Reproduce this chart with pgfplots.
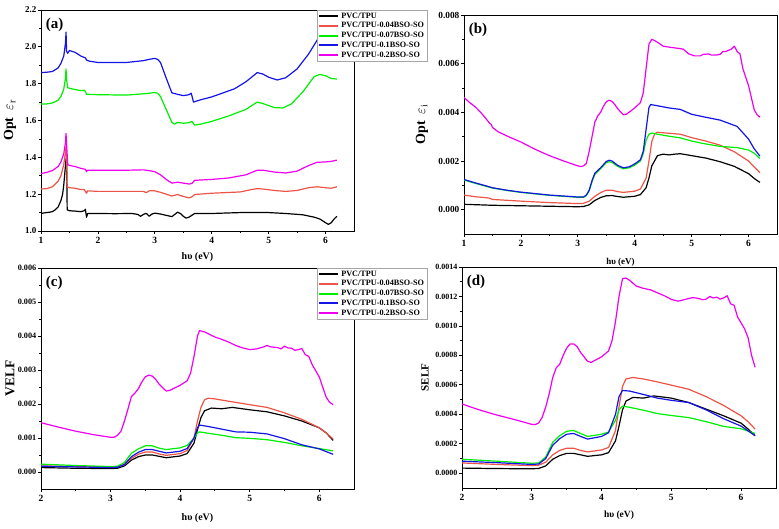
\documentclass[border=0pt]{standalone}
\usepackage{fontspec}
\setmainfont{Liberation Serif}
\usepackage{pgfplots}
\pgfplotsset{compat=1.18}

\definecolor{cBlack}{RGB}{0,0,0}
\definecolor{cRed}{RGB}{236,84,72}
\definecolor{cGreen}{RGB}{0,238,0}
\definecolor{cBlue}{RGB}{20,20,230}
\definecolor{cMag}{RGB}{240,0,240}

\pgfplotsset{
  panel/.style={
    scale only axis, anchor=south west,
    width=313pt, height=221pt,
    axis line style={line width=0.9pt},
    tick align=outside, tick pos=left,
    minor tick num=1,
    major tick length=3pt, minor tick length=1.8pt,
    every tick/.style={black, line width=0.8pt},
    xticklabel style={font=\bfseries\fontsize{9.5}{11}\selectfont},
    yticklabel style={inner xsep=1.5pt},
    /pgf/number format/assume math mode=true,
    scaled y ticks=false,
    xmax=6.5,
    xlabel={hυ (eV)},
    every axis plot/.append style={line width=1.2pt, line join=round, no markers},
    legend cell align=left,
    legend image code/.code={\draw[##1, line width=2pt] (0pt,0pt) -- (19pt,0pt);},
  },
  leg/.style={
    legend style={at={(axis description cs:0.882,1)}, anchor=north west,
      draw=black!35, fill=white, line width=0.5pt,
      font=\bfseries\fontsize{8.2}{9}\selectfont,
      inner xsep=1pt, inner ysep=0.5pt, row sep=-1.2pt},
  },
}

\begin{document}
\begin{tikzpicture}[x=1pt,y=1pt]
\path[use as bounding box] (0,0) rectangle (779,529);

% ---------------- (a) real part of the optical dielectric constant
\begin{axis}[panel, leg, at={(41pt,298pt)},
  xmin=1, ymin=1.0, ymax=2.2, xtick={1,2,3,4,5,6},
  ytick={1.0,1.2,...,2.2},
  yticklabel style={font=\bfseries\fontsize{9}{11}\selectfont, /pgf/number format/.cd, fixed, fixed zerofill, precision=1},
  ylabel={Opt~~$\varepsilon_{\mathrm{r}}$},
  ylabel style={at={(axis description cs:-0.099,0.5)}, anchor=center, font=\bfseries\fontsize{14}{16}\selectfont},
  xlabel style={at={(axis description cs:0.5,-0.118)}, anchor=center, font=\bfseries\fontsize{10}{12}\selectfont},
]
\addplot[color=cBlack] coordinates {(1.00,1.095)(1.05,1.098)(1.10,1.100)(1.15,1.102)(1.20,1.105)(1.25,1.115)(1.30,1.130)(1.35,1.165)(1.38,1.200)(1.40,1.250)(1.42,1.320)(1.44,1.390)(1.45,1.400)(1.46,1.115)(1.50,1.110)(1.60,1.108)(1.70,1.105)(1.76,1.110)(1.78,1.118)(1.80,1.075)(1.82,1.095)(1.90,1.095)(2.00,1.095)(2.30,1.094)(2.60,1.095)(2.70,1.090)(2.75,1.080)(2.80,1.090)(2.85,1.096)(2.90,1.080)(2.95,1.092)(3.00,1.097)(3.10,1.092)(3.20,1.085)(3.30,1.078)(3.35,1.090)(3.40,1.102)(3.45,1.095)(3.50,1.080)(3.55,1.070)(3.60,1.075)(3.65,1.085)(3.70,1.095)(4.00,1.095)(4.50,1.100)(5.00,1.100)(5.30,1.095)(5.60,1.088)(5.80,1.075)(5.90,1.065)(6.00,1.045)(6.05,1.036)(6.10,1.045)(6.15,1.065)(6.20,1.080)};
\addlegendentry{PVC/TPU}
\addplot[color=cRed] coordinates {(1.00,1.228)(1.10,1.230)(1.20,1.240)(1.30,1.270)(1.35,1.300)(1.40,1.360)(1.43,1.430)(1.44,1.460)(1.45,1.400)(1.46,1.240)(1.50,1.235)(1.60,1.232)(1.70,1.225)(1.76,1.225)(1.80,1.205)(1.82,1.218)(2.00,1.215)(2.50,1.215)(2.80,1.215)(2.85,1.208)(2.90,1.218)(3.00,1.218)(3.10,1.210)(3.20,1.200)(3.30,1.190)(3.40,1.198)(3.50,1.188)(3.60,1.180)(3.65,1.185)(3.70,1.198)(4.00,1.205)(4.50,1.212)(4.70,1.225)(4.80,1.230)(4.90,1.228)(5.10,1.220)(5.30,1.215)(5.50,1.220)(5.70,1.235)(5.85,1.240)(6.00,1.235)(6.10,1.232)(6.20,1.240)};
\addlegendentry{PVC/TPU-0.04BSO-SO}
\addplot[color=cGreen] coordinates {(1.00,1.690)(1.10,1.690)(1.20,1.695)(1.30,1.710)(1.35,1.730)(1.40,1.770)(1.43,1.830)(1.44,1.880)(1.45,1.820)(1.47,1.778)(1.50,1.775)(1.60,1.768)(1.70,1.762)(1.76,1.765)(1.78,1.758)(1.80,1.742)(1.85,1.742)(2.00,1.740)(2.50,1.738)(2.80,1.745)(2.90,1.748)(3.00,1.752)(3.05,1.748)(3.10,1.730)(3.20,1.660)(3.30,1.590)(3.35,1.580)(3.40,1.590)(3.50,1.585)(3.60,1.588)(3.65,1.595)(3.70,1.575)(3.80,1.580)(4.00,1.595)(4.30,1.625)(4.60,1.660)(4.80,1.700)(4.90,1.692)(5.10,1.670)(5.25,1.668)(5.40,1.690)(5.60,1.755)(5.80,1.838)(5.90,1.850)(6.00,1.843)(6.10,1.828)(6.20,1.825)};
\addlegendentry{PVC/TPU-0.07BSO-SO}
\addplot[color=cBlue] coordinates {(1.00,1.860)(1.10,1.862)(1.20,1.866)(1.30,1.885)(1.35,1.910)(1.40,1.950)(1.43,2.020)(1.44,2.080)(1.45,1.975)(1.47,1.965)(1.50,1.980)(1.60,1.970)(1.70,1.950)(1.78,1.940)(1.80,1.928)(1.85,1.922)(2.00,1.915)(2.50,1.915)(2.80,1.925)(2.90,1.932)(3.00,1.937)(3.05,1.932)(3.10,1.915)(3.20,1.830)(3.30,1.750)(3.40,1.742)(3.50,1.735)(3.60,1.740)(3.64,1.748)(3.68,1.700)(3.80,1.712)(4.00,1.728)(4.40,1.772)(4.60,1.810)(4.80,1.860)(4.90,1.852)(5.00,1.835)(5.15,1.820)(5.30,1.832)(5.50,1.880)(5.70,1.960)(5.90,2.060)(6.00,2.080)(6.20,2.090)};
\addlegendentry{PVC/TPU-0.1BSO-SO}
\addplot[color=cMag] coordinates {(1.00,1.312)(1.10,1.318)(1.20,1.328)(1.30,1.350)(1.35,1.375)(1.40,1.420)(1.43,1.480)(1.44,1.530)(1.45,1.470)(1.47,1.360)(1.50,1.356)(1.60,1.350)(1.70,1.340)(1.78,1.335)(1.80,1.322)(1.82,1.330)(2.00,1.330)(2.50,1.330)(2.80,1.332)(2.90,1.328)(3.00,1.322)(3.10,1.305)(3.20,1.280)(3.30,1.260)(3.40,1.265)(3.50,1.260)(3.60,1.255)(3.65,1.258)(3.70,1.275)(4.00,1.280)(4.30,1.288)(4.60,1.305)(4.80,1.330)(4.90,1.330)(5.10,1.320)(5.30,1.315)(5.50,1.325)(5.70,1.355)(5.85,1.373)(6.00,1.375)(6.10,1.378)(6.20,1.385)};
\addlegendentry{PVC/TPU-0.2BSO-SO}
\node[anchor=north west, font=\bfseries\fontsize{15}{16}\selectfont, inner sep=0pt] at (axis description cs:0.015,0.965) {(a)};
\end{axis}

% ---------------- (b) imaginary part
\begin{axis}[panel, at={(464pt,295pt)}, height=219pt,
  xmin=1, ymin=-0.001, ymax=0.008, xtick={1,2,3,4,5,6},
  ytick={0,0.002,0.004,0.006,0.008},
  yticklabel style={font=\bfseries\fontsize{9.3}{11}\selectfont, /pgf/number format/.cd, fixed, fixed zerofill, precision=3},
  ylabel={Opt~~$\varepsilon_{\mathrm{i}}$},
  ylabel style={at={(axis description cs:-0.134,0.5)}, anchor=center, font=\bfseries\fontsize{14}{16}\selectfont},
  xlabel style={at={(axis description cs:0.5,-0.128)}, anchor=center, font=\bfseries\fontsize{9}{11}\selectfont},
]
\addplot[color=cBlack] coordinates {(1.00,0.00022)(1.50,0.00018)(2.00,0.00016)(2.50,0.00014)(3.00,0.00012)(3.10,0.00013)(3.20,0.00020)(3.30,0.00038)(3.40,0.00050)(3.50,0.00057)(3.60,0.00058)(3.70,0.00054)(3.80,0.00051)(4.00,0.00055)(4.10,0.00062)(4.20,0.00090)(4.25,0.00130)(4.30,0.00180)(4.40,0.00222)(4.50,0.00228)(4.60,0.00225)(4.70,0.00228)(4.80,0.00230)(5.00,0.00222)(5.25,0.00212)(5.50,0.00197)(5.75,0.00178)(6.00,0.00148)(6.10,0.00128)(6.20,0.00112)};
\addplot[color=cRed] coordinates {(1.00,0.00060)(1.20,0.00053)(1.40,0.00049)(1.45,0.00047)(1.50,0.00042)(2.00,0.00035)(2.50,0.00029)(3.00,0.00025)(3.10,0.00026)(3.20,0.00035)(3.30,0.00055)(3.40,0.00070)(3.50,0.00080)(3.60,0.00080)(3.70,0.00074)(3.80,0.00071)(4.00,0.00076)(4.10,0.00085)(4.20,0.00130)(4.25,0.00200)(4.30,0.00280)(4.35,0.00312)(4.40,0.00318)(4.60,0.00314)(4.80,0.00310)(5.00,0.00296)(5.25,0.00282)(5.50,0.00265)(5.75,0.00238)(6.00,0.00200)(6.10,0.00175)(6.20,0.00152)};
\addplot[color=cGreen] coordinates {(1.00,0.00122)(1.20,0.00108)(1.40,0.00095)(1.50,0.00089)(1.75,0.00079)(2.00,0.00071)(2.50,0.00059)(3.00,0.00051)(3.10,0.00051)(3.15,0.00058)(3.20,0.00078)(3.25,0.00115)(3.30,0.00145)(3.40,0.00168)(3.50,0.00193)(3.55,0.00197)(3.60,0.00194)(3.70,0.00178)(3.80,0.00168)(3.90,0.00172)(4.00,0.00183)(4.10,0.00200)(4.15,0.00230)(4.20,0.00285)(4.25,0.00310)(4.30,0.00315)(4.40,0.00310)(4.60,0.00302)(4.80,0.00295)(5.00,0.00282)(5.20,0.00272)(5.50,0.00260)(5.80,0.00255)(6.00,0.00245)(6.10,0.00232)(6.20,0.00210)};
\addplot[color=cBlue] coordinates {(1.00,0.00124)(1.20,0.00110)(1.40,0.00097)(1.50,0.00090)(1.75,0.00080)(2.00,0.00072)(2.50,0.00060)(3.00,0.00052)(3.10,0.00052)(3.15,0.00060)(3.20,0.00080)(3.25,0.00120)(3.30,0.00150)(3.40,0.00172)(3.50,0.00198)(3.55,0.00203)(3.60,0.00200)(3.70,0.00182)(3.80,0.00172)(3.90,0.00176)(4.00,0.00188)(4.10,0.00205)(4.15,0.00240)(4.20,0.00330)(4.25,0.00420)(4.28,0.00432)(4.40,0.00427)(4.60,0.00418)(4.80,0.00412)(5.00,0.00392)(5.20,0.00382)(5.50,0.00368)(5.80,0.00342)(6.00,0.00290)(6.10,0.00250)(6.20,0.00220)};
\addplot[color=cMag] coordinates {(1.00,0.00461)(1.10,0.00440)(1.20,0.00422)(1.30,0.00398)(1.40,0.00370)(1.45,0.00355)(1.48,0.00350)(1.50,0.00338)(1.60,0.00320)(1.80,0.00298)(2.00,0.00278)(2.25,0.00248)(2.50,0.00222)(2.75,0.00200)(3.00,0.00180)(3.05,0.00177)(3.10,0.00180)(3.15,0.00190)(3.20,0.00240)(3.25,0.00300)(3.30,0.00360)(3.35,0.00385)(3.40,0.00400)(3.45,0.00425)(3.50,0.00443)(3.55,0.00450)(3.60,0.00445)(3.65,0.00432)(3.70,0.00415)(3.80,0.00390)(3.85,0.00392)(3.90,0.00400)(4.00,0.00418)(4.10,0.00440)(4.15,0.00480)(4.20,0.00580)(4.25,0.00680)(4.30,0.00700)(4.35,0.00695)(4.40,0.00688)(4.50,0.00672)(4.60,0.00668)(4.70,0.00665)(4.85,0.00660)(4.95,0.00640)(5.05,0.00632)(5.15,0.00632)(5.20,0.00638)(5.30,0.00640)(5.35,0.00635)(5.45,0.00636)(5.50,0.00638)(5.55,0.00650)(5.60,0.00650)(5.65,0.00655)(5.70,0.00660)(5.75,0.00672)(5.80,0.00650)(5.85,0.00640)(5.90,0.00580)(6.00,0.00510)(6.05,0.00460)(6.10,0.00410)(6.15,0.00390)(6.20,0.00380)};
\node[anchor=north west, font=\bfseries\fontsize{15}{16}\selectfont, inner sep=0pt] at (axis description cs:0.015,0.965) {(b)};
\end{axis}

% ---------------- (c) volume energy loss function
\begin{axis}[panel, leg, at={(41pt,40pt)},
  xmin=2, ymin=-0.0005, ymax=0.006, xtick={2,3,4,5,6},
  ytick={0,0.001,...,0.006},
  yticklabel style={font=\bfseries\fontsize{8.2}{10}\selectfont, /pgf/number format/.cd, fixed, fixed zerofill, precision=3},
  ylabel={VELF},
  ylabel style={at={(axis description cs:-0.099,0.5)}, anchor=center, font=\bfseries\fontsize{13.5}{15}\selectfont},
  xlabel style={at={(axis description cs:0.5,-0.131)}, anchor=center, font=\bfseries\fontsize{10}{12}\selectfont},
]
\addplot[color=cBlack] coordinates {(2.00,0.00013)(2.50,0.00011)(3.00,0.00010)(3.10,0.00011)(3.20,0.00018)(3.30,0.00035)(3.40,0.00045)(3.50,0.00050)(3.60,0.00050)(3.70,0.00046)(3.80,0.00042)(4.00,0.00047)(4.10,0.00054)(4.20,0.00085)(4.25,0.00125)(4.30,0.00160)(4.35,0.00180)(4.45,0.00188)(4.60,0.00186)(4.75,0.00190)(5.00,0.00183)(5.25,0.00177)(5.50,0.00165)(5.75,0.00150)(6.00,0.00130)(6.10,0.00115)(6.20,0.00093)};
\addlegendentry{PVC/TPU}
\addplot[color=cRed] coordinates {(2.00,0.00018)(2.50,0.00016)(3.00,0.00014)(3.10,0.00015)(3.20,0.00022)(3.30,0.00040)(3.40,0.00052)(3.50,0.00059)(3.60,0.00059)(3.70,0.00053)(3.80,0.00049)(4.00,0.00054)(4.10,0.00063)(4.20,0.00100)(4.25,0.00150)(4.30,0.00190)(4.35,0.00212)(4.40,0.00217)(4.50,0.00215)(4.70,0.00208)(5.00,0.00198)(5.25,0.00190)(5.50,0.00174)(5.75,0.00155)(6.00,0.00130)(6.10,0.00115)(6.20,0.00097)};
\addlegendentry{PVC/TPU-0.04BSO-SO}
\addplot[color=cGreen] coordinates {(2.00,0.00023)(2.50,0.00019)(3.00,0.00016)(3.10,0.00017)(3.20,0.00028)(3.30,0.00055)(3.40,0.00068)(3.50,0.00077)(3.60,0.00077)(3.70,0.00070)(3.80,0.00066)(4.00,0.00071)(4.10,0.00078)(4.20,0.00100)(4.25,0.00115)(4.28,0.00118)(4.40,0.00114)(4.60,0.00108)(4.80,0.00101)(5.00,0.00099)(5.25,0.00095)(5.50,0.00087)(5.75,0.00077)(6.00,0.00069)(6.20,0.00062)};
\addlegendentry{PVC/TPU-0.07BSO-SO}
\addplot[color=cBlue] coordinates {(2.00,0.00017)(2.50,0.00015)(3.00,0.00013)(3.10,0.00014)(3.20,0.00022)(3.30,0.00045)(3.40,0.00058)(3.50,0.00066)(3.60,0.00066)(3.70,0.00061)(3.80,0.00056)(4.00,0.00061)(4.10,0.00069)(4.20,0.00100)(4.25,0.00130)(4.28,0.00138)(4.40,0.00134)(4.60,0.00126)(4.80,0.00118)(5.00,0.00117)(5.25,0.00112)(5.50,0.00098)(5.75,0.00080)(6.00,0.00068)(6.20,0.00052)};
\addlegendentry{PVC/TPU-0.1BSO-SO}
\addplot[color=cMag] coordinates {(2.00,0.00145)(2.25,0.00132)(2.50,0.00120)(2.75,0.00110)(3.00,0.00102)(3.05,0.00102)(3.10,0.00108)(3.15,0.00120)(3.20,0.00150)(3.25,0.00185)(3.30,0.00222)(3.35,0.00232)(3.40,0.00245)(3.45,0.00265)(3.50,0.00280)(3.55,0.00285)(3.60,0.00282)(3.65,0.00272)(3.70,0.00258)(3.80,0.00238)(3.85,0.00240)(3.90,0.00245)(4.00,0.00255)(4.10,0.00268)(4.15,0.00290)(4.20,0.00340)(4.25,0.00400)(4.28,0.00416)(4.35,0.00412)(4.50,0.00397)(4.60,0.00390)(4.70,0.00382)(4.80,0.00372)(4.90,0.00365)(5.00,0.00360)(5.10,0.00362)(5.20,0.00368)(5.25,0.00372)(5.30,0.00368)(5.40,0.00366)(5.45,0.00362)(5.50,0.00370)(5.55,0.00365)(5.60,0.00364)(5.65,0.00358)(5.70,0.00360)(5.75,0.00363)(5.80,0.00345)(5.85,0.00340)(5.90,0.00315)(6.00,0.00280)(6.05,0.00250)(6.10,0.00220)(6.15,0.00205)(6.20,0.00198)};
\addlegendentry{PVC/TPU-0.2BSO-SO}
\node[anchor=north west, font=\bfseries\fontsize{15}{16}\selectfont, inner sep=0pt] at (axis description cs:0.015,0.965) {(c)};
\end{axis}

% ---------------- (d) surface energy loss function
\begin{axis}[panel, at={(462pt,41pt)}, width=314pt,
  xmin=2, ymin=-0.0001, ymax=0.0014, xtick={2,3,4,5,6},
  ytick={0,0.0002,0.0004,0.0006,0.0008,0.0010,0.0012,0.0014},
  yticklabel style={font=\bfseries\fontsize{8}{10}\selectfont, /pgf/number format/.cd, fixed, fixed zerofill, precision=4},
  ylabel={SELF},
  ylabel style={at={(axis description cs:-0.118,0.5)}, anchor=center, font=\bfseries\fontsize{11}{13}\selectfont},
  xlabel style={at={(axis description cs:0.5,-0.122)}, anchor=center, font=\bfseries\fontsize{9.5}{11}\selectfont},
]
\addplot[color=cBlack] coordinates {(2.00,0.000035)(2.50,0.000032)(3.00,0.000030)(3.10,0.000033)(3.20,0.000050)(3.30,0.000095)(3.40,0.000120)(3.50,0.000135)(3.60,0.000135)(3.70,0.000125)(3.80,0.000115)(4.00,0.000125)(4.10,0.000140)(4.20,0.000220)(4.25,0.000320)(4.30,0.000430)(4.35,0.000490)(4.45,0.000515)(4.60,0.000510)(4.75,0.000525)(5.00,0.000510)(5.25,0.000480)(5.50,0.000435)(5.75,0.000390)(6.00,0.000340)(6.10,0.000300)(6.20,0.000255)};
\addplot[color=cRed] coordinates {(2.00,0.000070)(2.50,0.000060)(3.00,0.000052)(3.10,0.000055)(3.20,0.000075)(3.30,0.000125)(3.40,0.000155)(3.50,0.000170)(3.60,0.000170)(3.70,0.000155)(3.80,0.000145)(4.00,0.000158)(4.10,0.000175)(4.20,0.000290)(4.25,0.000450)(4.30,0.000590)(4.35,0.000640)(4.45,0.000650)(4.60,0.000640)(4.80,0.000620)(5.00,0.000598)(5.25,0.000570)(5.50,0.000520)(5.75,0.000460)(6.00,0.000390)(6.10,0.000350)(6.20,0.000300)};
\addplot[color=cGreen] coordinates {(2.00,0.000095)(2.50,0.000082)(3.00,0.000068)(3.10,0.000070)(3.20,0.000110)(3.30,0.000210)(3.40,0.000255)(3.50,0.000285)(3.60,0.000290)(3.70,0.000270)(3.80,0.000250)(4.00,0.000265)(4.10,0.000280)(4.20,0.000360)(4.25,0.000430)(4.30,0.000455)(4.40,0.000448)(4.60,0.000428)(4.80,0.000405)(5.00,0.000392)(5.25,0.000378)(5.50,0.000350)(5.75,0.000318)(6.00,0.000302)(6.20,0.000270)};
\addplot[color=cBlue] coordinates {(2.00,0.000082)(2.50,0.000072)(3.00,0.000060)(3.10,0.000063)(3.20,0.000100)(3.30,0.000190)(3.40,0.000235)(3.50,0.000265)(3.60,0.000270)(3.70,0.000250)(3.80,0.000232)(4.00,0.000250)(4.10,0.000275)(4.20,0.000400)(4.25,0.000520)(4.30,0.000562)(4.40,0.000558)(4.60,0.000535)(4.80,0.000510)(5.00,0.000495)(5.25,0.000480)(5.50,0.000430)(5.75,0.000370)(6.00,0.000320)(6.20,0.000255)};
\addplot[color=cMag] coordinates {(2.00,0.000470)(2.25,0.000430)(2.50,0.000395)(2.75,0.000365)(3.00,0.000332)(3.05,0.000330)(3.10,0.000342)(3.15,0.000380)(3.20,0.000450)(3.25,0.000540)(3.30,0.000650)(3.35,0.000715)(3.40,0.000740)(3.45,0.000800)(3.50,0.000850)(3.55,0.000878)(3.60,0.000878)(3.65,0.000860)(3.70,0.000820)(3.80,0.000760)(3.85,0.000752)(3.90,0.000765)(4.00,0.000790)(4.10,0.000830)(4.15,0.000900)(4.20,0.001030)(4.25,0.001200)(4.30,0.001320)(4.35,0.001325)(4.40,0.001310)(4.50,0.001270)(4.60,0.001255)(4.70,0.001245)(4.80,0.001225)(4.90,0.001205)(5.00,0.001180)(5.10,0.001168)(5.20,0.001180)(5.30,0.001192)(5.35,0.001190)(5.40,0.001185)(5.45,0.001178)(5.50,0.001182)(5.55,0.001200)(5.60,0.001190)(5.65,0.001195)(5.70,0.001182)(5.75,0.001190)(5.80,0.001205)(5.85,0.001150)(5.90,0.001140)(5.95,0.001060)(6.05,0.000980)(6.10,0.000920)(6.15,0.000800)(6.20,0.000720)};
\node[anchor=north west, font=\bfseries\fontsize{15}{16}\selectfont, inner sep=0pt] at (axis description cs:0.015,0.965) {(d)};
\end{axis}
\end{tikzpicture}
\end{document}
